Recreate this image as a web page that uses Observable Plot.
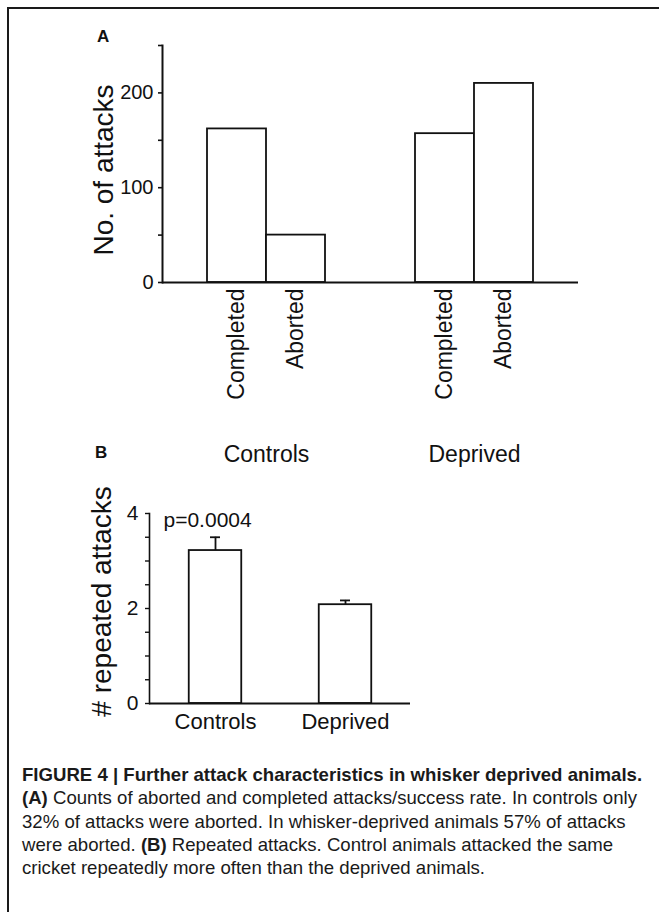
<!DOCTYPE html>
<html>
<head>
<meta charset="utf-8">
<script src="https://cdn.jsdelivr.net/npm/d3@7"></script>
<script src="https://cdn.jsdelivr.net/npm/@observablehq/plot@0.6"></script>
<style>
  html, body { margin: 0; padding: 0; background: #fff; width: 659px; height: 912px; overflow: hidden; }
  body { position: relative; font-family: "Liberation Sans", Arial, sans-serif; color: #111; }
  #frame { position: absolute; left: 7px; top: 7px; width: 800px; height: 1000px;
           border-left: 2.5px solid #1a1a1a; border-top: 2.5px solid #1a1a1a; box-sizing: border-box; }
  #chartA { position: absolute; left: 0; top: 0; }
  #chartB { position: absolute; left: 0; top: 480px; }
  .panel { position: absolute; font-weight: bold; font-size: 17px; line-height: 17px; }
  #caption { position: absolute; left: 22px; top: 763px; font-family: "Liberation Sans", Arial, sans-serif;
             font-size: 18.6px; line-height: 23.25px; white-space: nowrap; color: #1a1a1a; }
  #caption b { font-weight: bold; }
</style>
</head>
<body>
<div id="frame"></div>
<div id="chartA"></div>
<div id="chartB"></div>
<div class="panel" style="left:97px; top:28px;">A</div>
<div class="panel" style="left:95px; top:444px;">B</div>
<div id="caption"></div>
<script>
// ---- Data: panel A (counts of attacks) ----
const groupsA = ["Controls", "Deprived"];
const typesA = ["Completed", "Aborted"];
const attacksControls = [162, 50];
const attacksDeprived = [157, 210];
const yTicksA = [0, 100, 200];
const yMinorA = [0, 50, 100, 150, 200, 250];
const yLabelA = "No. of attacks";

// ---- Data: panel B (repeated attacks) ----
const groupsB = ["Controls", "Deprived"];
const repeatedMean = [3.22, 2.08];
const repeatedSem = [0.28, 0.09];
const yTicksB = [0, 2, 4];
const yMinorB = [0, 0.5, 1, 1.5, 2, 2.5, 3, 3.5, 4];
const yLabelB = "# repeated attacks";
const pText = "p=0.0004";

// ---- Caption ----
const captionLines = [
  "<b>FIGURE 4 | Further attack characteristics in whisker deprived animals.</b>",
  "<b>(A)</b> Counts of aborted and completed attacks/success rate. In controls only",
  "32% of attacks were aborted. In whisker-deprived animals 57% of attacks",
  "were aborted. <b>(B)</b> Repeated attacks. Control animals attacked the same",
  "cricket repeatedly more often than the deprived animals."
];

const ink = "#111";
const valuesA = [attacksControls, attacksDeprived];
const tableA = groupsA.flatMap((g, i) => typesA.map((t, j) => ({group: g, type: t, value: valuesA[i][j]})));
const tableB = groupsB.map((g, i) => ({group: g, mean: repeatedMean[i], sem: repeatedSem[i]}));

const chartA = Plot.plot({
  width: 659, height: 470,
  marginTop: 45, marginBottom: 188, marginLeft: 161, marginRight: 81,
  style: {fontFamily: "'Liberation Sans', Arial, sans-serif", color: ink, background: "transparent", overflow: "visible"},
  fx: {domain: groupsA, padding: 0, axis: null},
  x: {domain: typesA, paddingInner: 0, paddingOuter: 0.752, axis: null},
  y: {domain: [0, 250], axis: null},
  marks: [
    Plot.barY(tableA, {fx: "group", x: "type", y: "value", fill: "white", stroke: ink, strokeWidth: 1.8}),
    Plot.ruleY([0], {stroke: ink, strokeWidth: 2}),
    Plot.frame({anchor: "left", facetAnchor: "left", stroke: ink, strokeWidth: 2}),
    Plot.axisY(yMinorA, {anchor: "left", tickSize: 4, tickPadding: 5, fontSize: 20, stroke: ink, strokeWidth: 1.6,
      tickFormat: d => yTicksA.includes(d) ? String(d) : "", label: null}),
    Plot.axisX({tickRotate: -90, tickSize: 0, tickPadding: 6, fontSize: 23, label: null}),
    Plot.axisFx({anchor: "bottom", tickSize: 0, tickPadding: 163, fontSize: 23, label: null}),
    Plot.text([yLabelA], {fx: () => groupsA[0], text: d => d, frameAnchor: "left", textAnchor: "middle", lineAnchor: "middle",
      rotate: -90, dx: -58, dy: 6, fontSize: 28})
  ]
});
document.getElementById("chartA").append(chartA);

const chartB = Plot.plot({
  width: 659, height: 280,
  marginTop: 33, marginBottom: 57, marginLeft: 149, marginRight: 249,
  style: {fontFamily: "'Liberation Sans', Arial, sans-serif", color: ink, background: "transparent", overflow: "visible"},
  x: {domain: groupsB, padding: 0, axis: null},
  y: {domain: [0, 4], axis: null},
  marks: [
    Plot.ruleX(tableB, {x: "group", y1: "mean", y2: d => d.mean + d.sem, stroke: ink, strokeWidth: 1.8}),
    Plot.tickY(tableB, {x: "group", y: d => d.mean + d.sem, stroke: ink, strokeWidth: 1.8, insetLeft: 60, insetRight: 60}),
    Plot.barY(tableB, {x: "group", y: "mean", fill: "white", stroke: ink, strokeWidth: 1.8, insetLeft: 38.75, insetRight: 38.75}),
    Plot.ruleY([0], {stroke: ink, strokeWidth: 2}),
    Plot.frame({anchor: "left", stroke: ink, strokeWidth: 1.6}),
    Plot.axisY(yMinorB, {anchor: "left", tickSize: 4, tickPadding: 7, fontSize: 21, stroke: ink, strokeWidth: 1.4,
      tickFormat: d => yTicksB.includes(d) ? String(d) : "", label: null}),
    Plot.axisX({tickSize: 0, tickPadding: 10, fontSize: 22, label: null}),
    Plot.text([yLabelB], {text: d => d, frameAnchor: "left", textAnchor: "middle", lineAnchor: "middle",
      rotate: -90, dx: -47, dy: -7, fontSize: 28}),
    Plot.text([pText], {text: d => d, frameAnchor: "top-left", textAnchor: "start", dx: 14, dy: -1, fontSize: 21})
  ]
});
document.getElementById("chartB").append(chartB);

document.getElementById("caption").innerHTML = captionLines.map(l => `<div>${l}</div>`).join("");
</script>
</body>
</html>
